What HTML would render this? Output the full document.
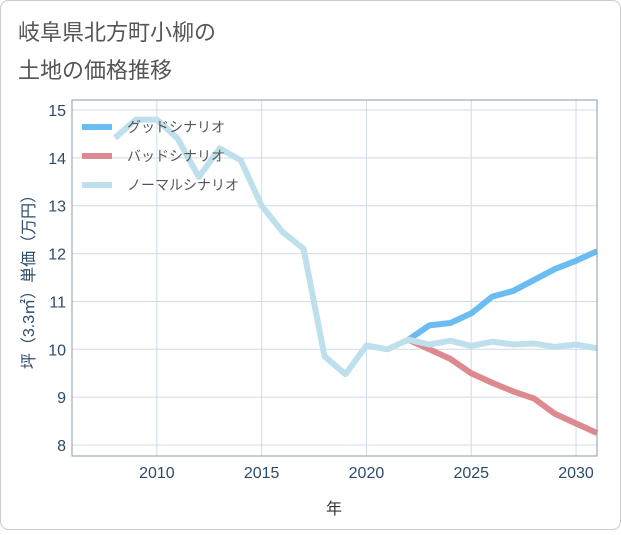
<!DOCTYPE html>
<html><head><meta charset="utf-8"><style>
body{margin:0;background:#fff;font-family:"Liberation Sans","Noto Sans CJK JP",sans-serif;}
#wrap{position:relative;width:621px;height:530px;}
</style></head><body>
<div id="wrap">
<svg id="c" width="621" height="530" xmlns="http://www.w3.org/2000/svg">
<rect x="0.5" y="0.5" width="620" height="529" rx="8" fill="#fff" stroke="#ccc"/>
<text x="18" y="40" font-size="22" fill="#555">岐阜県北方町小柳の</text>
<text x="18" y="78" font-size="22" fill="#555">土地の価格推移</text>
<g id="grid"></g>
<g id="series"></g>
<rect x="72" y="100" width="525" height="356" fill="none" stroke="#8a9aaa"/>
<g id="legend"></g>
<text x="334" y="514" font-size="16" fill="#333" text-anchor="middle">年</text>
<text transform="translate(34,278) rotate(-90)" font-size="16" fill="#2c4a6a" text-anchor="middle">坪（3.3㎡）単価（万円）</text>
</svg>
</div>
<script>
const xTicks=[2010,2015,2020,2025,2030];
const yTicks=[8,9,10,11,12,13,14,15];
const normalYears=[2008,2009,2010,2011,2012,2013,2014,2015,2016,2017,2018,2019,2020,2021,2022,2023,2024,2025,2026,2027,2028,2029,2030,2031];
const normalVals=[14.42,14.8,14.8,14.4,13.6,14.2,13.95,13.0,12.45,12.1,9.85,9.48,10.08,10.0,10.2,10.1,10.18,10.07,10.16,10.1,10.12,10.05,10.1,10.02];
const goodYears=[2022,2023,2024,2025,2026,2027,2028,2029,2030,2031];
const goodVals=[10.2,10.5,10.55,10.75,11.1,11.22,11.45,11.68,11.85,12.05];
const badYears=[2022,2023,2024,2025,2026,2027,2028,2029,2030,2031];
const badVals=[10.2,10.0,9.8,9.5,9.3,9.12,8.97,8.65,8.45,8.25];
const X0=72,X1=597,Y0=100,Y1=456,xMin=2005.95,xMax=2031,yMin=7.77,yMax=15.21;
const sx=v=>X0+(v-xMin)/(xMax-xMin)*(X1-X0);
const sy=v=>Y1-(v-yMin)/(yMax-yMin)*(Y1-Y0);
const NS="http://www.w3.org/2000/svg";
function mk(t,a,p){const e=document.createElementNS(NS,t);for(const k in a)e.setAttribute(k,a[k]);p.appendChild(e);return e;}
const g=document.getElementById('grid');
xTicks.forEach(t=>{const l=mk('line',{x1:sx(t),x2:sx(t),y1:Y0,y2:Y1,stroke:'#d0dce8'},g);


const tx=mk('text',{x:sx(t),y:478,'font-size':16,fill:'#2c4a6a','text-anchor':'middle'},g);tx.textContent=t;

});
yTicks.forEach(t=>{const l=mk('line',{x1:X0,x2:X1,y1:sy(t),y2:sy(t),stroke:'#d0dce8'},g);


const tx=mk('text',{x:66,y:sy(t)+6,'font-size':16,fill:'#2c4a6a','text-anchor':'end'},g);tx.textContent=t;

});
const s=document.getElementById('series');
function line(ys,vs,c,n){const p=mk('polyline',{points:ys.map((y,i)=>sx(y)+','+sy(vs[i])).join(' '),fill:'none',stroke:c,'stroke-width':6,'stroke-linejoin':'round'},s);

}
line(goodYears,goodVals,'#6bbcf0','good-scenario-line');
line(badYears,badVals,'#dc8a90','bad-scenario-line');
line(normalYears,normalVals,'#bde0ec','normal-scenario-line');
const lg=document.getElementById('legend');
[['グッドシナリオ','#6bbcf0'],['バッドシナリオ','#dc8a90'],['ノーマルシナリオ','#bde0ec']].forEach((d,i)=>{
const y=127+i*29;
const r=mk('rect',{x:82,y:y-3,width:30,height:6,fill:d[1]},lg);


const t=mk('text',{x:127,y:y+5,'font-size':14,fill:'#555'},lg);t.textContent=d[0];

});
</script>
</body></html>
